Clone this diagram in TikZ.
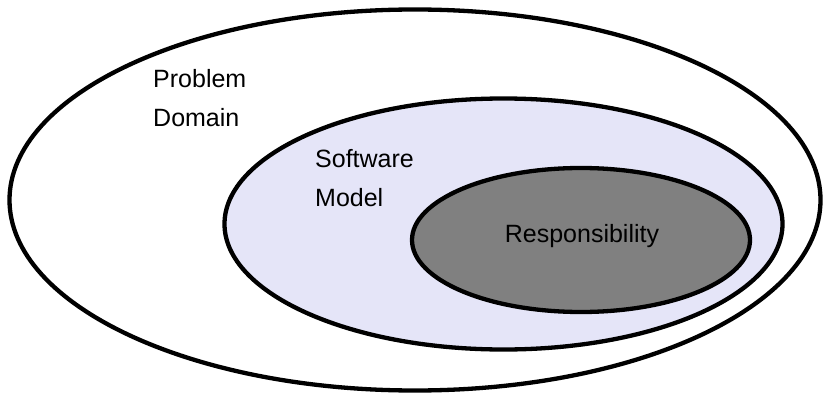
\documentclass[tikz,border=0pt]{standalone}
\usepackage{fontspec}
\setmainfont{Liberation Sans}
\usetikzlibrary{shapes.geometric}
\definecolor{lav}{HTML}{E5E5F8}
\definecolor{resp}{HTML}{808080}
\begin{document}
\begin{tikzpicture}[x=1pt,y=-1pt,
  blob/.style={ellipse, draw=black, line width=4.3pt, inner sep=0pt, outer sep=0pt},
  lbl/.style={inner sep=0pt, anchor=base west, font=\fontsize{25}{39}\selectfont}]
\useasboundingbox (0,0) rectangle (824,393);
\node[blob, fill=white, minimum width=811pt, minimum height=381pt] (outer) at (415,200) {};
\node[blob, fill=lav, minimum width=558pt, minimum height=251pt] (middle) at (503.5,224) {};
\node[blob, fill=resp, minimum width=338pt, minimum height=144pt] (inner) at (581,240) {};
\node[lbl] (prob) at (153,88) {Problem};
\node[lbl] (dom) at (153,127) {Domain};
\node[lbl] (soft) at (315,167) {Software};
\node[lbl] (mod) at (315,206) {Model};
\node[lbl, anchor=base] (respl) at (582,242) {Responsibility};
\end{tikzpicture}
\end{document}
